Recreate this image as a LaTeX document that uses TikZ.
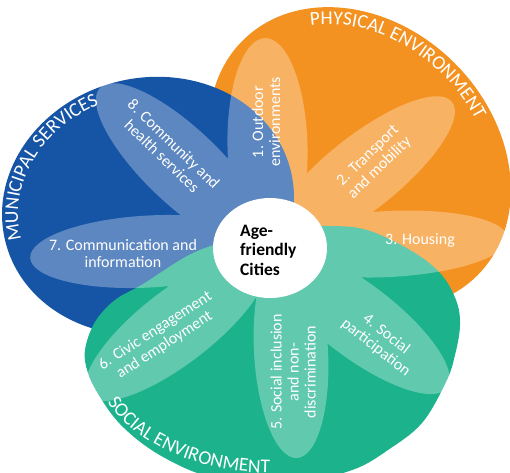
\documentclass[tikz,border=0pt]{standalone}
\usepackage{fontspec}
\setmainfont{Carlito}
\usetikzlibrary{decorations.text,shapes.geometric}
\definecolor{msblue}{RGB}{22,84,166}
\definecolor{peorange}{RGB}{244,146,33}
\definecolor{segreen}{RGB}{28,178,139}
\begin{document}
\begin{tikzpicture}[x=1pt,y=-1pt,
  plabel/.style={text=white, align=center, inner sep=0pt,
    font=\fontsize{16}{17}\selectfont},
  domaintext/.style={decorate, decoration={text along path, text align=center,
    text={|\fontsize{19.5}{19.5}\selectfont\color{white}|#1}}}
]
\useasboundingbox (0,0) rectangle (510,472);

% the three domains
\fill[peorange, rotate around={-45:(360,158)}] (360,158) ellipse [x radius=166, y radius=134];
\fill[msblue, rotate around={14:(148,206)}] (148,206) ellipse [x radius=147, y radius=128];
\fill[segreen] plot[smooth cycle, tension=0.6] coordinates {
  (85,350) (95,322) (115,300) (143,284) (193,253) (240,238) (290,228) (330,226)
  (367,230) (410,250) (440,273) (456,300) (460,325) (455,355) (446,382) (422,423)
  (388,450) (355,469) (310,480) (260,482) (215,477) (187,469) (150,449) (120,424)
  (100,397) (88,373)};

% eight petals, filled as one shape so that overlaps stay even
\fill[white, fill opacity=0.3]
  {[rotate around={91.3:(267.5,146.5)}] (267.5,146.5) ellipse [x radius=108.5, y radius=40]}
  {[rotate around={38.5:(362,173.5)}] (362,173.5) ellipse [x radius=115, y radius=37]}
  {[rotate around={2.9:(389,244)}] (389,244) ellipse [x radius=119, y radius=33]}
  {[rotate around={-37.2:(357.5,320)}] (357.5,320) ellipse [x radius=112.4, y radius=37]}
  {[rotate around={-86.8:(291,351.5)}] (291,351.5) ellipse [x radius=106.7, y radius=37]}
  {[rotate around={-142.3:(176.5,326.5)}] (176.5,326.5) ellipse [x radius=112, y radius=37]}
  {[rotate around={183.1:(149,251.5)}] (149,251.5) ellipse [x radius=119, y radius=36]}
  {[rotate around={136.4:(182.5,166.5)}] (182.5,166.5) ellipse [x radius=114, y radius=38]};

% hub
\node (hub) [ellipse, fill=white, inner sep=0pt, minimum width=114pt, minimum height=100pt] at (270,248) {};
\node (title) [anchor=west, align=left, inner sep=0pt,
  font=\bfseries\fontsize{17.5}{19.5}\selectfont] at (240,250) {Age-\\friendly\\Cities};

% petal labels
\node (l1) [plabel, rotate=90] at (266,122) {1. Outdoor\\environments};
\node (l2) [plabel, rotate=44] at (374,162) {2. Transport\\and mobility};
\node (l3) [plabel] at (420,240) {3. Housing};
\node (l4) [plabel, rotate=-38] at (381,341) {4. Social\\participation};
\node (l5) [plabel, rotate=90] at (293,372) {5. Social inclusion\\and non-\\discrimination};
\node (l6) [plabel, rotate=33] at (160,338) {6. Civic engagement\\and employment};
\node (l7) [plabel] at (123,253) {7. Communication and\\information};
\node (l8) [plabel, rotate=-44] at (168,150) {8. Community and\\health services};

% domain names along the rims
\path[rotate around={14:(148,206)}, domaintext={MUNICIPAL SERVICES}]
  (18.3,221.6) arc[start angle=172, end angle=266, x radius=131, y radius=112];
\path[rotate around={-45:(360,158)}, domaintext={PHYSICAL ENVIRONMENT}]
  (231,99.5) arc[start angle=210, end angle=292, x radius=149, y radius=117];
\path[domaintext={SOCIAL ENVIRONMENT}]
  (99.9,389.4) arc[start angle=162, end angle=86, x radius=181, y radius=121];
\end{tikzpicture}
\end{document}
